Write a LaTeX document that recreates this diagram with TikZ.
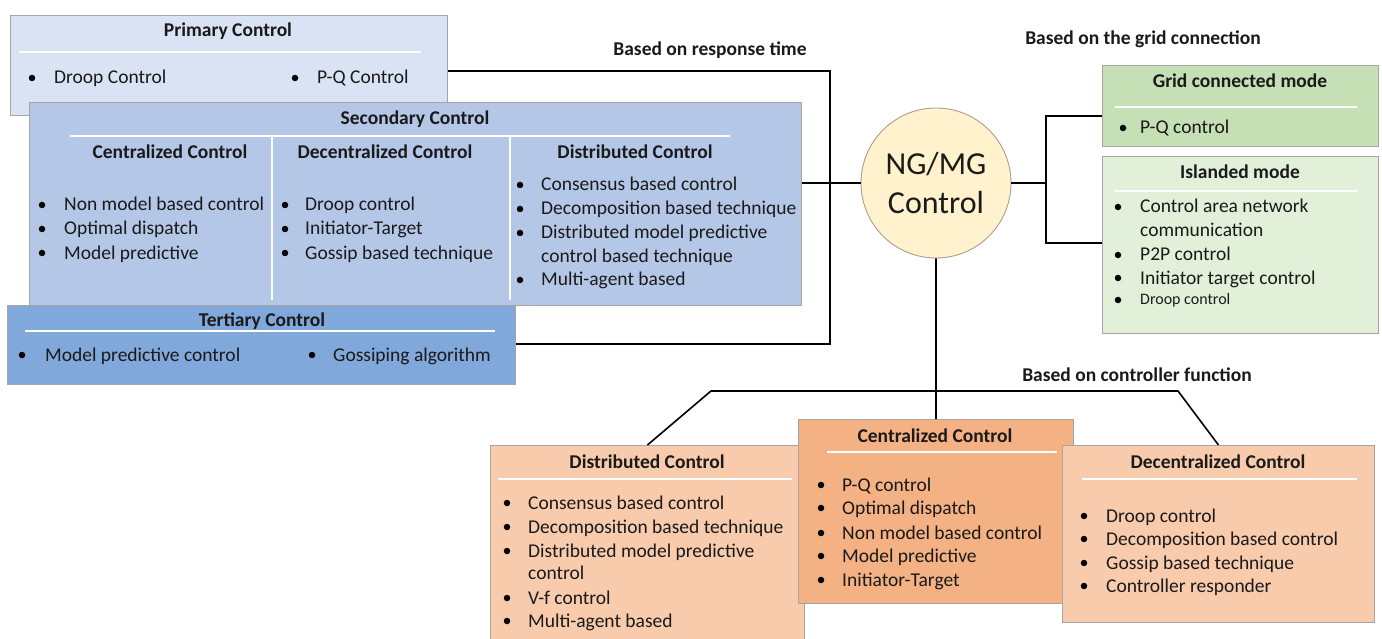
\documentclass[tikz,border=0pt]{standalone}
\usepackage{fontspec}
\setmainfont{Carlito}
\definecolor{pri}{HTML}{DAE3F3}
\definecolor{sec}{HTML}{B4C7E7}
\definecolor{ter}{HTML}{80A8DA}
\definecolor{gcm}{HTML}{C5E0B4}
\definecolor{isl}{HTML}{E2F0D9}
\definecolor{orl}{HTML}{F8CBAD}
\definecolor{ord}{HTML}{F4B183}
\definecolor{ngc}{HTML}{FFF2CC}
\definecolor{bdr}{HTML}{A5A5A5}
\definecolor{txt}{HTML}{1A1A1A}
\tikzset{
 box/.style={draw=bdr, line width=0.9pt, anchor=north west, inner sep=0pt},
 sepline/.style={draw=white, line width=1.6pt},
 conn/.style={draw=black, line width=1.6pt},
 itm/.style={anchor=base west, inner sep=0pt, font=\fontsize{19.5}{24}\selectfont, text=txt},
 smallitm/.style={anchor=base west, inner sep=0pt, font=\fontsize{16}{20}\selectfont, text=txt},
 ttl/.style={anchor=base, inner sep=0pt, font=\fontsize{19.5}{24}\selectfont\bfseries, text=txt},
 bdot/.style={circle, fill=black, inner sep=0pt, minimum size=6.5pt},
}
\newcommand\mybul[5]{\node[bdot] (#1d) at (#2,#4) {}; \node[itm] (#1) at (#3,#4+6) {#5};}
\newcommand\mycont[4]{\node[itm] (#1) at (#2,#3+6) {#4};}
\newcommand\myttl[4]{\node[ttl] (#1) at (#2,#3+6) {#4};}
\begin{document}
\begin{tikzpicture}[x=1pt,y=-1pt]
\useasboundingbox (0,0) rectangle (1382,639);
% ---------- Primary ----------
\node[box, fill=pri, minimum width=437pt, minimum height=100pt] (prim) at (10,15) {};
\myttl{primt}{228}{31}{Primary Control}
\draw[sepline] (19,52) -- (421,52);
\mybul{p1}{32}{54}{78}{Droop Control}
\mybul{p2}{295}{317}{78}{P-Q Control}
% ---------- Secondary ----------
\node[box, fill=sec, minimum width=772pt, minimum height=203pt] (sec) at (29,102) {};
\myttl{sect}{415}{119}{Secondary Control}
\draw[sepline] (70,136) -- (730,136);
\draw[sepline] (272,137) -- (272,300);
\draw[sepline] (510,137) -- (510,300);
\myttl{sh1}{170}{153}{Centralized Control}
\myttl{sh2}{385}{153}{Decentralized Control}
\myttl{sh3}{635}{153}{Distributed Control}
\mybul{sa1}{42}{64}{205}{Non model based control}
\mybul{sa2}{42}{64}{229}{Optimal dispatch}
\mybul{sa3}{42}{64}{253}{Model predictive}
\mybul{sb1}{285}{305}{205}{Droop control}
\mybul{sb2}{285}{305}{229}{Initiator-Target}
\mybul{sb3}{285}{305}{253}{Gossip based technique}
\mybul{sc1}{520}{541}{185}{Consensus based control}
\mybul{sc2}{520}{541}{209}{Decomposition based technique}
\mybul{sc3}{520}{541}{233}{Distributed model predictive}
\mycont{sc3b}{541}{256}{control based technique}
\mybul{sc4}{520}{541}{280}{Multi-agent based}
% ---------- Tertiary ----------
\node[box, fill=ter, minimum width=508pt, minimum height=79pt] (tert) at (7,305) {};
\myttl{tertt}{262}{320}{Tertiary Control}
\draw[sepline] (25,331) -- (495,331);
\mybul{t1}{22}{45}{355}{Model predictive control}
\mybul{t2}{312}{333}{355}{Gossiping algorithm}
% ---------- Centre ----------
\node[circle, draw=bdr!80!brown, line width=0.9pt, fill=ngc, minimum size=150pt, inner sep=0pt,
      align=center, font=\fontsize{32}{39}\selectfont, text=txt] (ng) at (936,183) {NG/MG\\Control};
% ---------- Right ----------
\node[box, fill=gcm, minimum width=276pt, minimum height=81pt] (grid) at (1102,65) {};
\myttl{gridt}{1240}{82}{Grid connected mode}
\draw[sepline] (1115,107) -- (1357,107);
\mybul{g1}{1123}{1140}{128}{P-Q control}
\node[box, fill=isl, minimum width=276pt, minimum height=177pt] (isl) at (1102,156) {};
\myttl{islt}{1240}{173}{Islanded mode}
\draw[sepline] (1115,191) -- (1357,191);
\mybul{i1}{1118}{1140}{207}{Control area network}
\mycont{i1b}{1140}{231}{communication}
\mybul{i2}{1118}{1140}{255}{P2P control}
\mybul{i3}{1118}{1140}{278}{Initiator target control}
\node[bdot] (i4d) at (1118,300) {};
\node[smallitm] (i4) at (1140,305) {Droop control};
% ---------- Bottom ----------
\node[box, fill=orl, minimum width=314pt, minimum height=200pt] (dist) at (490,445) {};
\myttl{distt}{647}{462}{Distributed Control}
\draw[sepline] (498,479) -- (792,479);
\mybul{d1}{507}{528}{503}{Consensus based control}
\mybul{d2}{507}{528}{527}{Decomposition based technique}
\mybul{d3}{507}{528}{551}{Distributed model predictive}
\mycont{d3b}{528}{573}{control}
\mybul{d4}{507}{528}{598}{V-f control}
\mybul{d5}{507}{528}{621}{Multi-agent based}
\node[box, fill=ord, minimum width=275pt, minimum height=184pt] (cen) at (798,419) {};
\myttl{cent}{935}{436}{Centralized Control}
\draw[sepline] (827,452) -- (1057,452);
\mybul{c1}{821}{842}{485}{P-Q control}
\mybul{c2}{821}{842}{508}{Optimal dispatch}
\mybul{c3}{821}{842}{533}{Non model based control}
\mybul{c4}{821}{842}{556}{Model predictive}
\mybul{c5}{821}{842}{580}{Initiator-Target}
\node[box, fill=orl, minimum width=312pt, minimum height=177pt] (dec) at (1062,445) {};
\myttl{dect}{1218}{462}{Decentralized Control}
\draw[sepline] (1082,479) -- (1357,479);
\mybul{e1}{1084}{1106}{516}{Droop control}
\mybul{e2}{1084}{1106}{539}{Decomposition based control}
\mybul{e3}{1084}{1106}{563}{Gossip based technique}
\mybul{e4}{1084}{1106}{586}{Controller responder}
% ---------- Labels ----------
\myttl{lrt}{710}{50}{Based on response time}
\myttl{lgc}{1143}{39}{Based on the grid connection}
\myttl{lcf}{1137}{375}{Based on controller function}
% ---------- Connectors ----------
\coordinate (rt1) at (830,71);
\coordinate (rt2) at (830,344);
\draw[conn] (prim.east |- rt1) -- (rt1) -- (rt2) -- (tert.east |- rt2);
\draw[conn] (sec.east |- ng.west) -- (ng.west);
\coordinate (gj1) at (1046,116);
\coordinate (gj2) at (1046,243);
\draw[conn] (ng.east) -- (gj1 |- ng.east);
\draw[conn] (grid.west |- gj1) -- (gj1) -- (gj2) -- (isl.west |- gj2);
\draw[conn] (ng.south) -- (cen.north);
\coordinate (bj1) at (711,391);
\coordinate (bj2) at (1178,391);
\draw[conn] (dist.north) -- (bj1) -- (bj2) -- (dec.north);
\end{tikzpicture}
\end{document}
